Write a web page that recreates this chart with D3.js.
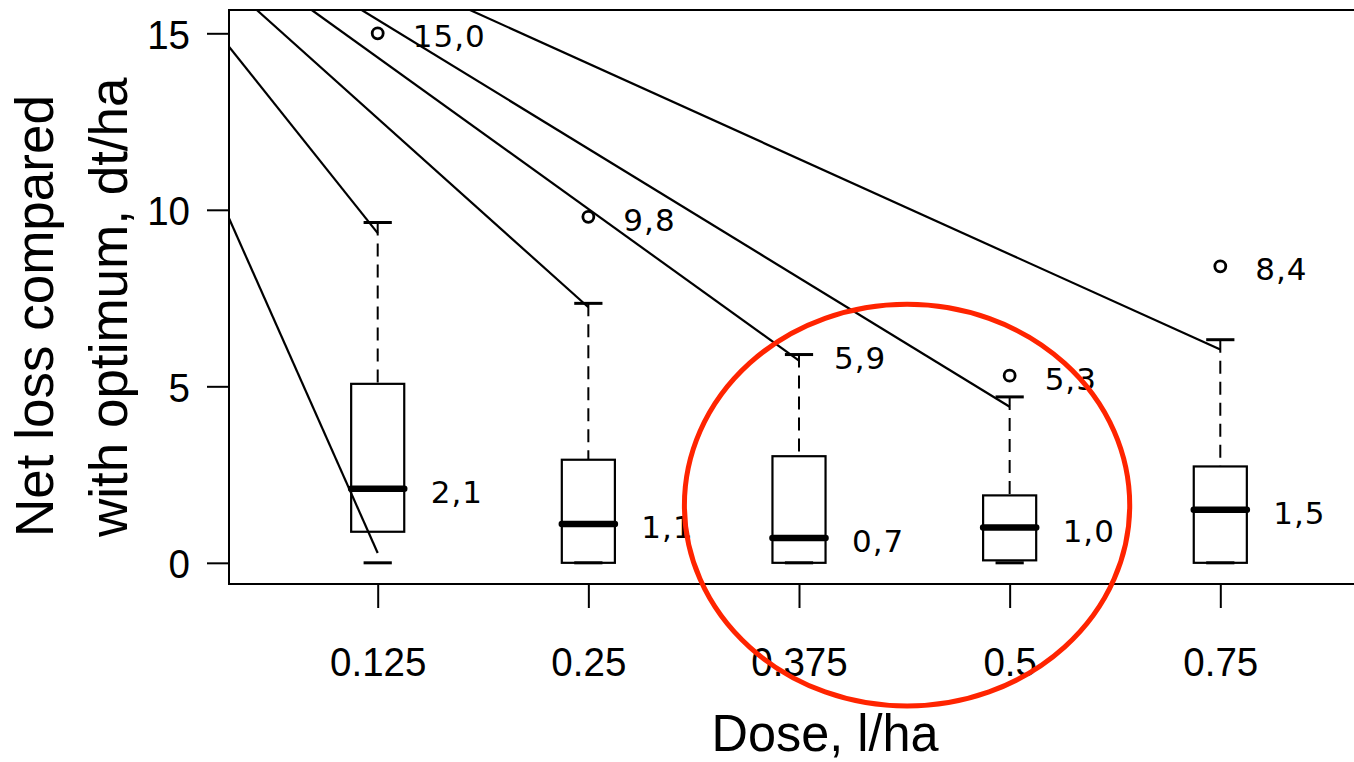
<!DOCTYPE html>
<html>
<head>
<meta charset="utf-8">
<script src="https://cdn.jsdelivr.net/npm/d3@7/dist/d3.min.js"></script>
<style>
  html, body { margin: 0; padding: 0; background: #fff; }
  svg { display: block; }
</style>
</head>
<body>
<svg id="chart" width="1354" height="762"></svg>
<script>
// Dose groups and the five-number summaries of net loss (dt/ha)
const doses = ["0.125", "0.25", "0.375", "0.5", "0.75"];
const lowerWhisker = [0, 0, 0, 0, 0];
const q1 = [0.88, 0, 0, 0.07, 0];
const medians = [2.1, 1.1, 0.7, 1.0, 1.5];
const q3 = [5.07, 2.92, 3.02, 1.91, 2.73];
const upperWhisker = [9.64, 7.35, 5.9, 4.7, 6.32];
const outliers = [[15.0], [9.8], [], [5.3], [8.4]];
const yTicks = [0, 5, 10, 15];

// Leader lines running in from the upper left: [group index, value] pairs
const leaderStart = [[-0.706, 9.76], [-0.706, 14.62], [-0.574, 15.66], [-0.313, 15.66], [-0.076, 15.66], [0.438, 15.66]];
const leaderEnd = [[0, 0.28], [0, 9.34], [1, 7.24], [2, 5.73], [3, 4.42], [4, 6.04]];

// Highlight ellipse around the 0.375 and 0.5 l/ha groups (group units / value units)
const highlight = { cx: 2.513, cy: 1.633, rx: 1.057, ry: 5.69 };

const svg = d3.select("#chart");
const plot = { left: 229, top: 10, bottom: 584, right: 1420 };

const x = d3.scaleLinear().domain([0, doses.length - 1]).range([377.7, 1220.3]);
const y = d3.scaleLinear().domain([-0.6, 15.66]).range([plot.bottom, plot.top]);

const step = x(1) - x(0);
const boxHalf = step * 0.126;
const capHalf = step * 0.067;

const tickFont = "'Liberation Sans', Arial, sans-serif";
const valueFont = "'DejaVu Sans', Verdana, sans-serif";

svg.append("defs").append("clipPath").attr("id", "plotClip")
  .append("rect")
  .attr("x", plot.left).attr("y", plot.top)
  .attr("width", plot.right - plot.left).attr("height", plot.bottom - plot.top);

// Frame
svg.append("rect")
  .attr("x", plot.left).attr("y", plot.top)
  .attr("width", plot.right - plot.left).attr("height", plot.bottom - plot.top)
  .attr("fill", "none").attr("stroke", "#000").attr("stroke-width", 2);

// Y axis
const gy = svg.append("g").attr("transform", `translate(${plot.left},0)`)
  .call(d3.axisLeft(y).tickValues(yTicks).tickSize(22).tickFormat(d3.format("d")));
gy.select(".domain").remove();
gy.selectAll(".tick line").attr("stroke", "#000").attr("stroke-width", 2);
gy.selectAll(".tick text")
  .attr("font-family", tickFont).attr("font-size", 41).attr("fill", "#000")
  .attr("x", -41.5).attr("dy", "0.36em")
  .attr("transform", "scale(0.94,1)");

// X axis
const gx = svg.append("g").attr("transform", `translate(0,${plot.bottom})`)
  .call(d3.axisBottom(x).tickValues(d3.range(doses.length)).tickSize(24).tickFormat(i => doses[i]));
gx.select(".domain").remove();
gx.selectAll(".tick line").attr("stroke", "#000").attr("stroke-width", 2);
gx.selectAll(".tick text")
  .attr("font-family", tickFont).attr("font-size", 41).attr("fill", "#000")
  .attr("y", 91.7).attr("dy", 0)
  .attr("transform", "scale(0.94,1)");

// Axis titles
const yTitle = svg.append("g").attr("font-family", tickFont).attr("font-size", 53).attr("fill", "#000");
yTitle.append("text").attr("transform", "translate(53,537) rotate(-90)").text("Net loss compared");
yTitle.append("text").attr("transform", "translate(126.7,537) rotate(-90)").text("with optimum, dt/ha");

svg.append("text")
  .attr("transform", "translate(825,751) scale(0.97,1)")
  .attr("text-anchor", "middle")
  .attr("font-family", tickFont).attr("font-size", 52).attr("fill", "#000")
  .text("Dose, l/ha");

// Box plots
const groups = svg.append("g").selectAll("g").data(doses).join("g");

groups.append("line")
  .attr("x1", (d, i) => x(i)).attr("x2", (d, i) => x(i))
  .attr("y1", (d, i) => y(upperWhisker[i])).attr("y2", (d, i) => y(q3[i]))
  .attr("stroke", "#000").attr("stroke-width", 2).attr("stroke-dasharray", "13,8");

groups.append("line")
  .attr("x1", (d, i) => x(i) - capHalf).attr("x2", (d, i) => x(i) + capHalf)
  .attr("y1", (d, i) => y(upperWhisker[i])).attr("y2", (d, i) => y(upperWhisker[i]))
  .attr("stroke", "#000").attr("stroke-width", 3);

groups.append("line")
  .attr("x1", (d, i) => x(i) - capHalf).attr("x2", (d, i) => x(i) + capHalf)
  .attr("y1", (d, i) => y(lowerWhisker[i])).attr("y2", (d, i) => y(lowerWhisker[i]))
  .attr("stroke", "#000").attr("stroke-width", 3);

groups.append("rect")
  .attr("x", (d, i) => x(i) - boxHalf).attr("width", boxHalf * 2)
  .attr("y", (d, i) => y(q3[i])).attr("height", (d, i) => y(q1[i]) - y(q3[i]))
  .attr("fill", "none").attr("stroke", "#000").attr("stroke-width", 2.2);

groups.append("line")
  .attr("x1", (d, i) => x(i) - boxHalf).attr("x2", (d, i) => x(i) + boxHalf)
  .attr("y1", (d, i) => y(medians[i])).attr("y2", (d, i) => y(medians[i]))
  .attr("stroke", "#000").attr("stroke-width", 6.5).attr("stroke-linecap", "round");

groups.each(function (d, i) {
  d3.select(this).selectAll("circle").data(outliers[i]).join("circle")
    .attr("cx", x(i)).attr("cy", v => y(v)).attr("r", 5.5)
    .attr("fill", "none").attr("stroke", "#000").attr("stroke-width", 2.8);
});

// Value labels: median beside the box, top value (outlier or whisker) beside it
const fmt = v => v.toFixed(1).replace(".", ",");
const topValue = i => outliers[i].length ? d3.max(outliers[i]) : upperWhisker[i];

groups.append("text")
  .attr("x", (d, i) => x(i) + 53).attr("y", (d, i) => y(medians[i]) + 14)
  .attr("font-family", valueFont).attr("font-size", 31).attr("letter-spacing", 1)
  .attr("fill", "#000")
  .text((d, i) => fmt(medians[i]));

groups.append("text")
  .attr("x", (d, i) => x(i) + 35).attr("y", (d, i) => y(topValue(i)) + 14)
  .attr("font-family", valueFont).attr("font-size", 31).attr("letter-spacing", 1)
  .attr("fill", "#000")
  .text((d, i) => fmt(topValue(i)));

// Leader lines
svg.append("g").attr("clip-path", "url(#plotClip)")
  .selectAll("line").data(leaderStart).join("line")
  .attr("x1", d => x(d[0])).attr("y1", d => y(d[1]))
  .attr("x2", (d, i) => x(leaderEnd[i][0])).attr("y2", (d, i) => y(leaderEnd[i][1]))
  .attr("stroke", "#000").attr("stroke-width", 2.2);

// Highlight ellipse
svg.append("ellipse")
  .attr("cx", x(highlight.cx)).attr("cy", y(highlight.cy))
  .attr("rx", x(highlight.cx + highlight.rx) - x(highlight.cx))
  .attr("ry", y(highlight.cy) - y(highlight.cy + highlight.ry))
  .attr("fill", "none").attr("stroke", "#ff2400").attr("stroke-width", 5);
</script>
</body>
</html>
